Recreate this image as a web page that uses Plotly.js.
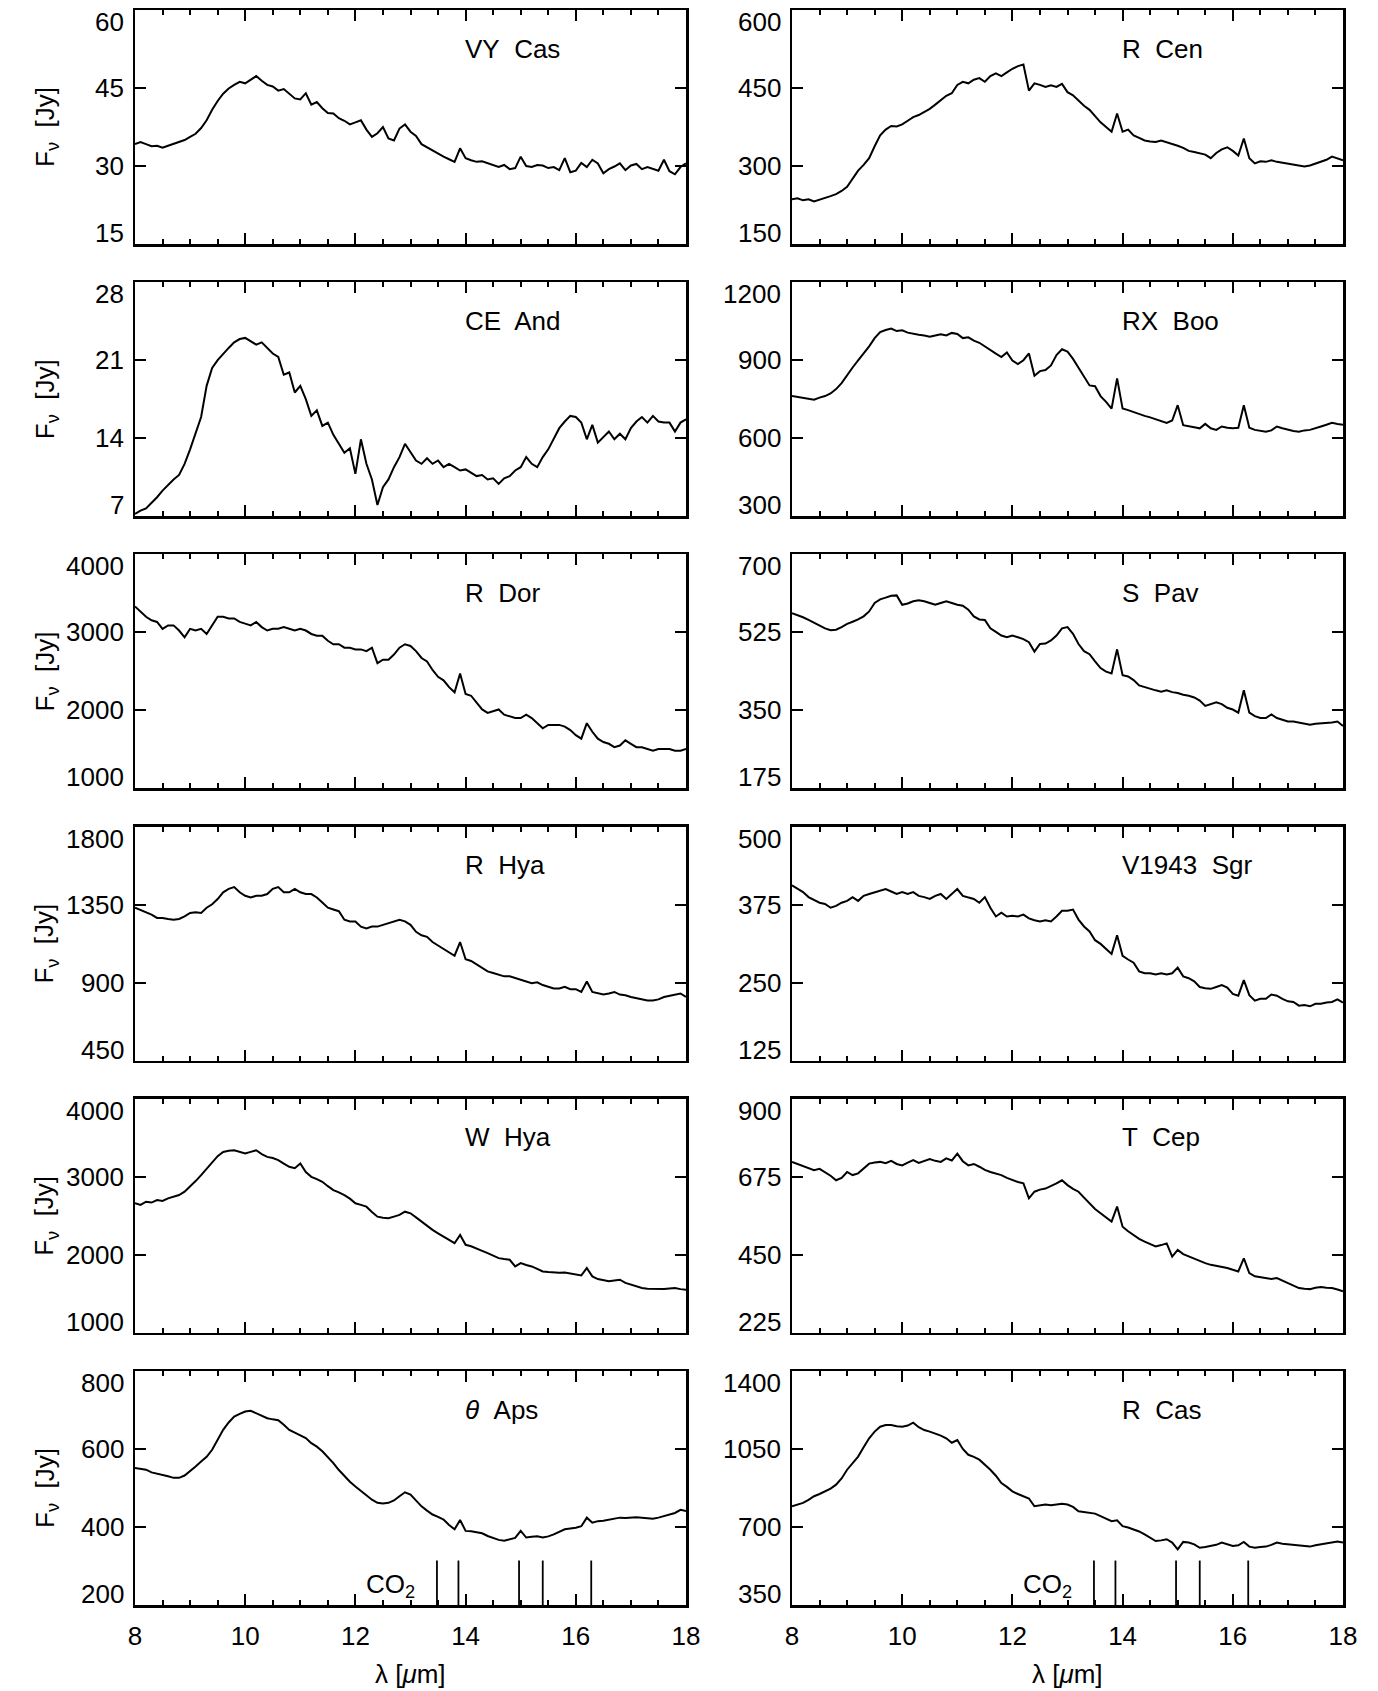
<!DOCTYPE html>
<html>
<head>
<meta charset="utf-8">
<script src="https://cdn.plot.ly/plotly-3.0.1.min.js"></script>
<style>html,body{margin:0;padding:0;background:#fff;}#chart{width:1378px;height:1691px;}</style>
</head>
<body>
<div id="chart"></div>
<script>
// ---------------- DATA ----------------
const WAVELENGTH = [
 8.0,8.1,8.2,8.3,8.4,8.5,8.6,8.7,8.8,8.9,
 9.0,9.1,9.2,9.3,9.4,9.5,9.6,9.7,9.8,9.9,
 10.0,10.1,10.2,10.3,10.4,10.5,10.6,10.7,10.8,10.9,
 11.0,11.1,11.2,11.3,11.4,11.5,11.6,11.7,11.8,11.9,
 12.0,12.1,12.2,12.3,12.4,12.5,12.6,12.7,12.8,12.9,
 13.0,13.1,13.2,13.3,13.4,13.5,13.6,13.7,13.8,13.9,
 14.0,14.1,14.2,14.3,14.4,14.5,14.6,14.7,14.8,14.9,
 15.0,15.1,15.2,15.3,15.4,15.5,15.6,15.7,15.8,15.9,
 16.0,16.1,16.2,16.3,16.4,16.5,16.6,16.7,16.8,16.9,
 17.0,17.1,17.2,17.3,17.4,17.5,17.6,17.7,17.8,17.9,
 18.0];

const VY_CAS = [
 34.2,34.6,34.2,33.8,33.9,33.5,33.9,34.3,34.6,35.0,
 35.6,36.2,37.3,38.8,40.8,42.5,43.9,44.9,45.6,46.2,
 45.9,46.6,47.3,46.4,45.6,45.3,44.5,44.8,43.9,43.0,
 42.8,44.0,41.8,42.3,41.1,40.2,40.1,39.2,38.7,38.0,
 38.4,38.8,37.0,35.6,36.3,37.5,35.3,34.9,37.2,38.0,
 36.6,35.8,34.2,33.6,32.9,32.4,31.8,31.3,30.8,33.4,
 31.5,31.1,30.8,30.9,30.5,30.2,29.8,30.2,29.4,29.6,
 31.8,30.0,29.8,30.2,30.1,29.6,29.8,29.2,31.5,28.8,
 29.1,30.6,29.8,31.2,30.5,28.6,29.4,29.9,30.5,29.2,
 30.1,30.4,29.4,29.8,29.4,29.1,31.2,29.0,28.4,29.8,
 30.5];

const CE_AND = [
 7.2,7.5,7.7,8.2,8.7,9.3,9.8,10.3,10.7,11.7,
 13.0,14.4,15.9,18.7,20.3,21.0,21.6,22.1,22.6,22.9,
 23.0,22.7,22.4,22.6,22.1,21.6,21.3,19.7,19.9,18.1,
 18.7,17.5,16.0,16.5,15.1,15.4,14.3,13.5,12.7,13.1,
 10.8,13.9,11.7,10.3,8.0,9.6,10.3,11.4,12.3,13.5,
 12.8,12.0,11.7,12.2,11.7,12.0,11.4,11.7,11.4,11.1,
 11.2,10.9,10.6,10.7,10.3,10.4,9.9,10.4,10.6,11.1,
 11.4,12.3,11.7,11.4,12.3,13.0,13.9,14.9,15.5,16.0,
 15.9,15.4,13.9,15.2,13.6,14.1,14.6,13.9,14.4,13.9,
 14.9,15.5,15.9,15.4,16.0,15.5,15.4,15.4,14.6,15.4,
 15.7];

const R_DOR = [
 3332,3266,3200,3156,3134,3046,3090,3090,3024,2936,
 3046,3024,3046,2980,3090,3200,3200,3178,3178,3134,
 3112,3090,3134,3068,3024,3046,3046,3068,3046,3024,
 3046,3024,2980,2958,2958,2892,2848,2848,2804,2804,
 2782,2782,2760,2804,2606,2650,2650,2716,2804,2848,
 2826,2760,2672,2628,2518,2430,2386,2298,2232,2474,
 2210,2188,2100,2012,1968,1990,2012,1946,1924,1902,
 1902,1946,1902,1836,1770,1814,1814,1814,1792,1748,
 1682,1638,1836,1726,1638,1594,1572,1528,1550,1616,
 1572,1528,1528,1506,1484,1506,1506,1506,1484,1484,
 1506];

const R_HYA = [
 1332,1318,1302,1292,1273,1273,1267,1263,1267,1282,
 1302,1306,1302,1332,1352,1382,1421,1441,1451,1421,
 1401,1391,1401,1401,1411,1441,1451,1421,1421,1441,
 1421,1411,1411,1391,1362,1332,1322,1312,1263,1253,
 1253,1223,1213,1223,1223,1233,1243,1253,1263,1253,
 1233,1193,1173,1164,1134,1114,1094,1074,1055,1134,
 1035,1025,1005,985,965,955,946,936,936,926,
 916,906,896,902,886,876,866,866,876,862,
 862,846,906,846,837,831,837,846,831,827,
 817,811,807,797,797,803,817,823,831,837,
 817];

const W_HYA = [
 2660,2640,2681,2670,2702,2690,2723,2740,2766,2810,
 2872,2945,3021,3105,3191,3265,3319,3335,3340,3320,
 3298,3320,3340,3290,3255,3240,3213,3170,3128,3110,
 3170,3060,3000,2970,2936,2880,2830,2800,2766,2720,
 2660,2640,2617,2550,2489,2475,2468,2490,2511,2553,
 2532,2480,2425,2370,2319,2275,2234,2190,2149,2255,
 2128,2110,2085,2050,2021,1990,1957,1945,1936,1851,
 1894,1870,1851,1820,1787,1780,1774,1770,1774,1760,
 1745,1735,1830,1723,1689,1670,1660,1670,1681,1640,
 1617,1595,1574,1565,1562,1560,1562,1568,1574,1560,
 1553];

const THETA_APS = [
 551,549,547,540,537,533,530,526,526,532,
 543,555,568,580,598,625,649,668,683,690,
 696,698,691,685,679,676,674,662,649,642,
 636,628,615,606,594,580,564,546,530,516,
 504,492,482,470,462,460,462,468,479,489,
 483,468,453,442,432,426,419,405,394,418,
 390,389,387,384,377,372,367,365,368,372,
 390,373,375,376,373,376,381,388,394,396,
 398,402,424,411,415,416,419,421,424,423,
 424,425,424,422,421,424,428,432,436,444,
 441];

const R_CEN = [
 236,238,234,236,232,235,239,242,246,252,
 260,275,291,302,315,338,359,370,377,376,
 380,387,394,398,404,410,418,426,435,440,
 456,462,459,466,469,462,473,478,473,480,
 487,492,495,445,459,456,452,455,452,458,
 442,436,425,416,408,395,384,375,366,401,
 366,370,359,354,349,347,346,349,346,343,
 339,335,329,327,325,322,315,325,332,336,
 329,320,353,315,305,309,308,311,308,306,
 305,303,301,299,301,305,308,312,318,314,
 311];

const RX_BOO = [
 762,758,755,752,748,756,762,772,789,812,
 844,872,899,926,953,985,1008,1016,1022,1012,
 1015,1006,1001,998,995,990,995,1000,995,1005,
 1001,985,988,975,967,952,940,925,912,930,
 899,885,900,926,840,858,862,880,920,942,
 933,905,871,835,803,800,762,740,714,830,
 714,708,700,695,686,680,673,668,659,668,
 727,650,645,642,638,655,638,632,645,640,
 638,640,727,640,632,628,625,630,645,638,
 632,628,625,630,632,640,645,652,659,655,
 652];

const S_PAV = [
 568,564,559,553,547,541,534,530,531,537,
 544,549,554,561,572,591,599,603,607,608,
 587,590,595,597,595,591,587,591,595,591,
 587,585,576,561,554,553,534,526,518,514,
 518,514,510,503,482,499,500,507,518,534,
 537,522,499,483,476,460,445,437,433,487,
 429,426,418,406,402,399,395,392,395,391,
 389,385,383,379,372,360,364,368,364,356,
 352,345,395,345,337,333,333,341,333,329,
 325,325,323,321,318,320,321,321,323,325,
 315];

const V1943_SGR = [
 406,400,395,387,383,378,376,370,373,378,
 381,387,381,389,392,395,398,400,396,392,
 395,392,395,389,387,384,389,392,384,392,
 400,389,387,384,378,387,370,356,362,356,
 357,356,359,353,350,348,350,348,356,365,
 365,367,351,340,332,318,312,304,296,326,
 293,287,282,268,265,265,263,265,263,265,
 274,260,257,252,243,241,240,243,246,242,
 232,229,254,230,221,224,224,231,229,224,
 220,219,213,214,212,216,216,218,219,223,
 218];

const T_CEP = [
 718,712,708,700,694,698,689,678,665,672,
 689,680,685,700,713,716,718,714,721,712,
 708,716,723,715,721,726,721,718,728,722,
 742,720,708,712,704,695,689,684,680,672,
 665,660,656,613,632,638,641,648,656,665,
 651,640,632,615,598,582,570,558,546,589,
 531,518,507,496,488,480,474,478,483,445,
 464,452,445,438,431,426,421,418,416,412,
 407,402,440,397,388,386,383,380,383,376,
 369,362,354,352,351,355,357,355,354,350,
 345];

const R_CAS = [
 793,802,808,822,838,848,860,872,890,918,
 957,985,1016,1058,1098,1128,1150,1158,1158,1152,
 1150,1155,1168,1148,1135,1128,1120,1110,1098,1078,
 1090,1050,1024,1015,1002,980,957,930,897,880,
 860,848,838,828,793,798,801,798,801,804,
 801,790,771,768,764,760,749,738,726,730,
 704,698,689,680,667,650,637,640,645,630,
 600,633,630,622,607,610,615,620,630,622,
 615,618,633,612,607,610,612,620,630,625,
 622,620,615,612,612,618,622,626,633,635,
 630];

// star names (row by row: left, right)
const STAR_NAMES = ['VY\u00a0 Cas','R\u00a0 Cen','CE\u00a0 And','RX\u00a0 Boo',
  'R\u00a0 Dor','S\u00a0 Pav','R\u00a0 Hya','V1943\u00a0 Sgr',
  'W\u00a0 Hya','T\u00a0 Cep','<i>\u03b8</i>\u00a0 Aps','R\u00a0 Cas'];

// y tick values per panel (same order)
const YTICKS_VY_CAS = [15,30,45,60];
const YTICKS_R_CEN = [150,300,450,600];
const YTICKS_CE_AND = [7,14,21,28];
const YTICKS_RX_BOO = [300,600,900,1200];
const YTICKS_R_DOR = [1000,2000,3000,4000];
const YTICKS_S_PAV = [175,350,525,700];
const YTICKS_R_HYA = [450,900,1350,1800];
const YTICKS_V1943_SGR = [125,250,375,500];
const YTICKS_W_HYA = [1000,2000,3000,4000];
const YTICKS_T_CEP = [225,450,675,900];
const YTICKS_THETA_APS = [200,400,600,800];
const YTICKS_R_CAS = [350,700,1050,1400];

const XTICKS = [8,10,12,14,16,18];
const CO2_LINES = [13.48,13.87,14.97,15.40,16.28];

const SERIES = [VY_CAS,R_CEN,CE_AND,RX_BOO,R_DOR,S_PAV,R_HYA,V1943_SGR,W_HYA,T_CEP,THETA_APS,R_CAS];
const YTICKS = [YTICKS_VY_CAS,YTICKS_R_CEN,YTICKS_CE_AND,YTICKS_RX_BOO,YTICKS_R_DOR,YTICKS_S_PAV,
  YTICKS_R_HYA,YTICKS_V1943_SGR,YTICKS_W_HYA,YTICKS_T_CEP,YTICKS_THETA_APS,YTICKS_R_CAS];

// ---------------- LAYOUT ----------------
const W = 1378, H = 1691;
const FONT = 'Liberation Sans, Arial, Helvetica, sans-serif';
const FS = 26;
const colLeft = [135, 792], colRight = [686, 1343];
const rowTop = r => 10 + r*272.2;
const rowH = 234;

const layout = {
  width: W, height: H,
  margin: {l:0, r:0, t:0, b:0, pad:0},
  paper_bgcolor: 'white', plot_bgcolor: 'white',
  showlegend: false, hovermode: false,
  font: {family: FONT, size: FS, color: 'black'},
  annotations: [], shapes: []
};
const data = [];

for (let p = 0; p < 12; p++) {
  const r = Math.floor(p/2), c = p % 2, n = p + 1;
  const s = n === 1 ? '' : String(n);
  const yt = YTICKS[p];
  const top = rowTop(r), bot = top + rowH;
  layout['xaxis'+s] = {
    domain: [colLeft[c]/W, colRight[c]/W],
    range: [8, 18], anchor: 'y'+s,
    tickmode: 'array', tickvals: XTICKS,
    ticks: 'inside', ticklen: 11, tickwidth: 2, tickcolor: 'black',
    minor: {tickmode:'linear', tick0: 8, dtick: 0.5, ticks: 'inside', ticklen: 5, tickwidth: 2, tickcolor: 'black'},
    showline: true, linewidth: 2.5, linecolor: 'black', mirror: 'ticks',
    showgrid: false, zeroline: false,
    showticklabels: r === 5, ticklabelstandoff: 6,
    tickfont: {family: FONT, size: FS, color: 'black'}
  };
  layout['yaxis'+s] = {
    domain: [1 - bot/H, 1 - top/H],
    range: [yt[0], yt[yt.length-1]], anchor: 'x'+s,
    tickmode: 'array', tickvals: yt,
    ticks: 'inside', ticklen: 11, tickwidth: 2, tickcolor: 'black',
    showline: true, linewidth: 2.5, linecolor: 'black', mirror: 'ticks',
    showgrid: false, zeroline: false, showticklabels: false
  };
  data.push({
    type: 'scatter', mode: 'lines', x: WAVELENGTH, y: SERIES[p],
    xaxis: 'x'+s, yaxis: 'y'+s,
    line: {color: 'black', width: 2}, hoverinfo: 'skip', cliponaxis: true
  });
  // y tick labels
  yt.forEach((v, i) => {
    let ya = 'middle', sh = 0;
    if (i === 0) { ya = 'bottom'; sh = -6; }
    if (i === yt.length-1) { ya = 'top'; sh = 5; }
    layout.annotations.push({
      xref: 'paper', x: (colLeft[c]-9)/W, xanchor: 'right',
      yref: 'y'+s, y: v, yanchor: ya, yshift: sh,
      text: String(v), showarrow: false,
      font: {family: FONT, size: FS, color: 'black'}
    });
  });
  // star name
  layout.annotations.push({
    xref: 'x'+s, x: 13.95, xanchor: 'left',
    yref: 'y'+s+' domain', y: 0.835, yanchor: 'middle',
    text: STAR_NAMES[p], showarrow: false,
    font: {family: FONT, size: FS, color: 'black'}
  });
  // y axis title (left column)
  if (c === 0) {
    layout.annotations.push({
      xref: 'paper', x: 46/W, xanchor: 'center',
      yref: 'y'+s+' domain', y: 0.5, yanchor: 'middle',
      textangle: -90, text: 'F<sub>\u03bd</sub>\u00a0 [Jy]', showarrow: false,
      font: {family: FONT, size: FS, color: 'black'}
    });
  }
  if (r === 5) {
    // x axis title
    layout.annotations.push({
      xref: 'x'+s+' domain', x: 0.5, xanchor: 'center',
      yref: 'paper', y: 1 - 1674/H, yanchor: 'middle',
      text: '\u03bb [<i>\u03bc</i>m]', showarrow: false,
      font: {family: FONT, size: FS, color: 'black'}
    });
    // CO2 markers
    CO2_LINES.forEach(lx => {
      layout.shapes.push({
        type: 'line', xref: 'x'+s, yref: 'y'+s+' domain',
        x0: lx, x1: lx, y0: 0, y1: 0.19,
        line: {color: 'black', width: 1.8}, layer: 'above'
      });
    });
    layout.annotations.push({
      xref: 'x'+s, x: 13.12, xanchor: 'right',
      yref: 'y'+s+' domain', y: 0.085, yanchor: 'middle',
      text: 'CO<sub>2</sub>', showarrow: false,
      font: {family: FONT, size: FS, color: 'black'}
    });
  }
}

Plotly.newPlot('chart', data, layout, {displayModeBar: false, staticPlot: true});
</script>
</body>
</html>
